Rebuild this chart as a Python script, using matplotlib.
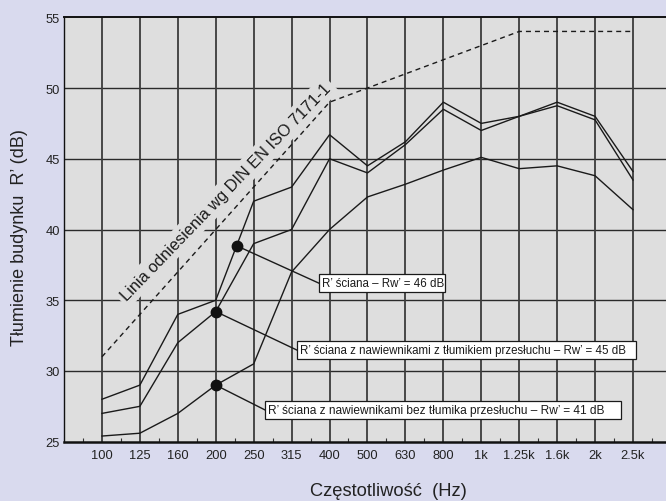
import numpy as np
import matplotlib
matplotlib.use("Agg")
import matplotlib.pyplot as plt
from matplotlib.patches import Rectangle

plt.rcParams["font.family"] = ["Liberation Sans", "DejaVu Sans"]

# Third-octave band centre frequencies
freq_labels = ["100", "125", "160", "200", "250", "315", "400", "500", "630",
               "800", "1k", "1.25k", "1.6k", "2k", "2.5k"]

# Reference curve (shifted)
reference = [31, 34, 37, 40, 43, 46, 49, 50, 51, 52, 53, 54, 54, 54, 54]

# Measured apparent sound reduction index R' (dB)
wall = [28.0, 29.0, 34.0, 35.0, 42.0, 43.0, 46.7, 44.5, 46.2, 49.0, 47.5, 48.0, 49.0, 48.0, 44.1]
wall_silencer = [27.0, 27.5, 32.0, 34.2, 39.0, 40.0, 45.0, 44.0, 46.0, 48.5, 47.0, 48.0, 48.75, 47.75, 43.5]
wall_no_silencer = [25.4, 25.6, 27.0, 29.0, 30.5, 37.0, 40.0, 42.3, 43.2, 44.2, 45.1, 44.3, 44.5, 43.8, 41.4]

labels = [
    "R’ ściana – Rw’ = 46 dB",
    "R’ ściana z nawiewnikami z tłumikiem przesłuchu – Rw’ = 45 dB",
    "R’ ściana z nawiewnikami bez tłumika przesłuchu – Rw’ = 41 dB",
]

FIG_BG = "#d9daee"
AX_BG = "#dedede"
INK = "#1a1a1a"

x = np.arange(len(freq_labels))

fig = plt.figure(figsize=(6.66, 5.02), dpi=100, facecolor=FIG_BG)
ax = fig.add_axes([64 / 666, (502 - 442.7) / 502, (666 - 64) / 666, (442.7 - 18.3) / 502])
ax.set_facecolor(AX_BG)
ax.set_xlim(-1, 14.87)
ax.set_ylim(25, 55)

# grid
for yv in [30, 35, 40, 45, 50]:
    ax.axhline(yv, color="#2a2a2a", lw=1.0, zorder=1)
for xv in x:
    ax.axvline(xv, color="#3c3c3c", lw=1.3, zorder=1)

# spines
for side in ["top", "bottom", "left"]:
    ax.spines[side].set_color("#111111")
ax.spines["top"].set_linewidth(1.4)
ax.spines["bottom"].set_linewidth(1.8)
ax.spines["left"].set_linewidth(1.0)
ax.spines["right"].set_visible(False)

ax.set_xticks(x)
ax.set_xticklabels(freq_labels, fontsize=9.3, color="#222222")
ax.set_xticks(np.arange(-0.5, 14.9, 1.0), minor=True)
ax.tick_params(axis="x", which="major", length=0, pad=5)
ax.tick_params(axis="x", which="minor", direction="in", length=3, width=0.8, color="#333333")
ax.set_yticks([25, 30, 35, 40, 45, 50, 55])
ax.tick_params(axis="y", length=0, pad=3, labelsize=9.3, labelcolor="#222222")

# reference curve label, anchored at the start of its baseline
ax.text(0.65, 34.95, "Linia odniesienia wg DIN EN ISO 7171-1", rotation=46,
        rotation_mode="anchor", ha="left", va="baseline", fontsize=11.7, color=INK,
        zorder=2, bbox=dict(boxstyle="square,pad=0.25", fc=AX_BG, ec="none"))

# curves
ax.plot(x, reference, color=INK, lw=1.0, ls=(0, (3.6, 2.9)), zorder=3)
ax.plot(x, wall, color=INK, lw=1.0, zorder=3)
ax.plot(x, wall_silencer, color=INK, lw=1.0, zorder=3)
ax.plot(x, wall_no_silencer, color=INK, lw=1.0, zorder=3)

# marker points and callout boxes (left, right, bottom, top in data units)
dot_x = [3.55, 3, 3]
dot_y = [np.interp(3.55, x, wall), wall_silencer[3], wall_no_silencer[3]]
boxes = [(5.726, 9.047, 35.55, 36.85),
         (5.138, 14.071, 30.83, 32.13),
         (4.303, 13.683, 26.59, 27.89)]
label_sizes = [8.3, 8.3, 8.6]
for dx, dy, (l, r, b, t), lab, fs in zip(dot_x, dot_y, boxes, labels, label_sizes):
    ym = (b + t) / 2
    ax.plot([dx, l], [dy, ym], color=INK, lw=1.0, zorder=4)
    ax.add_patch(Rectangle((l, b), r - l, t - b, fc="white", ec=INK, lw=0.9, zorder=4))
    ax.text(l + 0.08, ym, lab, ha="left", va="center", fontsize=fs, color=INK, zorder=5)
ax.plot(dot_x, dot_y, "o", color="#111111", ms=7.5, zorder=6)

fig.text(388 / 666, 1 - 492 / 502, "Częstotliwość  (Hz)", ha="center", va="center",
         fontsize=13.2, color="#222222")
fig.text(20 / 666, 1 - 238 / 502, "Tłumienie budynku  R’ (dB)", ha="center", va="center",
         rotation=90, fontsize=13.0, color="#222222")

fig.savefig("out.png", dpi=100, facecolor=FIG_BG)
